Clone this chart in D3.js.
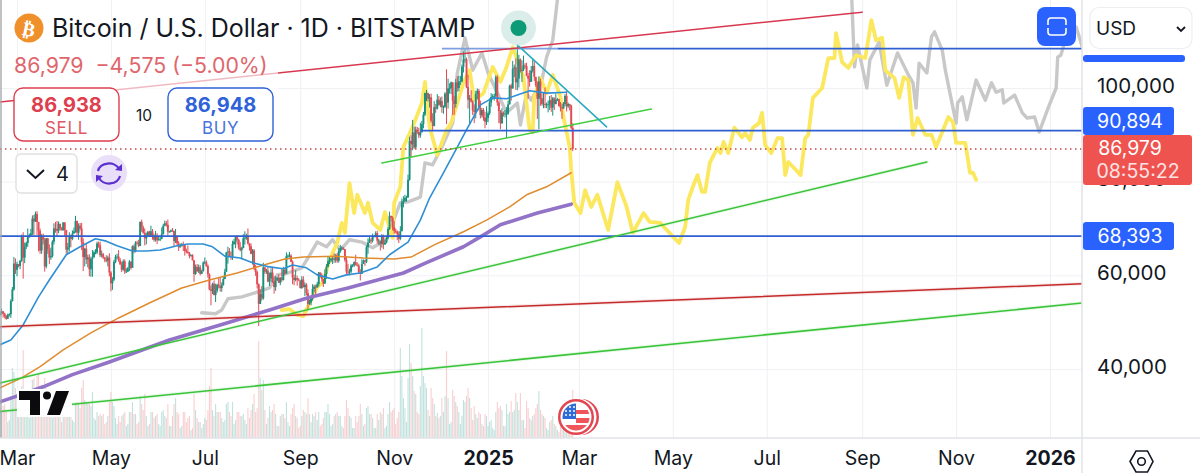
<!DOCTYPE html>
<html>
<head>
<meta charset="utf-8">
<script src="https://cdn.jsdelivr.net/npm/d3@7"></script>
<style>
  html, body { margin: 0; padding: 0; background: #fff; overflow: hidden; }
  text { font-family: Inter, "Noto Sans", sans-serif; }
</style>
</head>
<body>
<div id="plot"></div>
<script>
// daily bars from 2024-02-19, one line per month, prices in thousands USD
const firstBar = "2024-02-19";
const closes = [
  51.8,52.3,51.8,51.3,50.7,51.6,51.7,54.5,57.0,62.5,61.2,
  62.4,62.0,63.1,68.3,63.8,66.1,66.9,68.3,68.5,69.0,72.1,71.5,73.1,71.4,69.5,65.3,68.4,67.6,61.9,67.9,65.5,63.8,64.1,67.2,70.0,69.9,69.5,71.0,70.0,69.6,71.3,
  69.7,65.5,66.0,68.5,67.8,68.9,69.4,71.6,69.1,70.6,70.0,67.1,63.9,65.7,63.4,63.8,61.3,63.5,63.8,64.9,64.9,66.8,66.4,64.3,64.5,63.8,63.4,63.1,63.8,60.6,
  58.3,59.1,62.9,63.9,64.0,63.2,62.3,61.2,63.0,60.8,60.8,61.5,62.9,61.6,66.2,65.2,67.0,66.9,66.3,71.4,70.2,69.1,67.9,68.5,69.3,68.5,69.4,68.4,67.6,68.4,67.5,
  67.7,67.8,68.8,70.6,71.1,70.8,69.3,69.3,69.6,69.5,67.3,68.2,66.8,66.0,66.2,66.6,66.5,65.2,65.0,64.8,64.1,64.3,63.2,60.3,61.8,60.9,61.7,60.3,60.9,62.7,
  62.8,62.0,60.2,57.0,56.7,58.2,55.8,56.7,58.0,57.7,57.3,57.9,59.2,60.8,64.9,65.1,64.1,64.0,66.7,67.2,68.2,67.6,65.9,65.4,65.8,67.9,68.0,68.3,66.8,66.2,64.6,
  65.3,61.4,60.7,58.1,53.9,56.0,55.1,61.7,60.8,61.0,58.7,59.3,60.6,58.7,57.5,58.9,59.5,58.4,59.5,59.0,61.2,60.4,64.1,64.2,64.2,62.9,59.5,59.0,59.4,59.1,58.9,
  57.3,59.1,57.5,58.0,56.2,53.9,54.2,55.0,57.1,57.6,57.4,58.1,60.6,60.0,59.2,58.2,60.3,61.8,63.0,63.2,63.6,63.6,63.3,64.3,63.1,65.2,65.8,65.9,65.6,63.3,
  60.8,60.6,60.8,62.1,62.1,62.8,62.2,62.1,60.6,60.3,62.4,63.2,62.9,66.0,67.0,67.6,67.4,68.4,68.4,69.0,67.4,67.4,66.7,68.2,66.6,67.0,67.9,69.9,72.7,72.3,70.3,
  69.5,69.3,68.8,67.8,69.4,75.6,75.9,76.5,76.7,80.4,88.7,88.0,90.5,87.3,91.1,90.6,89.9,90.5,92.3,94.3,98.9,98.9,97.7,98.0,93.0,91.9,95.9,95.6,97.5,96.4,
  97.2,95.9,96.0,98.8,96.9,99.9,99.9,101.2,97.3,96.6,101.2,100.0,101.4,101.4,104.5,106.1,106.1,100.2,97.5,97.8,97.1,95.2,94.9,98.7,99.4,95.8,94.2,95.3,93.7,92.8,93.6,
  94.6,96.9,98.1,98.2,98.3,102.3,96.9,95.1,92.5,94.7,94.5,94.5,94.5,96.5,100.5,99.9,104.1,104.4,101.2,102.0,106.1,103.7,103.9,104.8,104.7,102.6,102.0,101.3,103.7,104.7,102.4,
  100.6,97.7,101.4,97.8,96.6,96.6,96.5,96.5,96.5,97.4,95.8,97.8,96.6,97.5,97.6,96.1,95.8,95.6,96.6,98.3,96.1,96.6,96.3,91.5,86.98
];
const highs = [
  52.4,52.9,52.4,52.0,51.5,51.8,51.9,54.9,57.5,63.9,63.6,
  62.9,62.4,63.3,68.7,69.2,67.0,67.2,70.0,68.9,69.9,72.8,72.9,73.6,73.7,71.4,70.0,68.8,68.9,68.0,68.0,68.0,66.6,65.9,67.5,71.1,71.4,71.6,71.5,71.0,70.3,71.3,
  71.3,69.5,66.9,69.2,68.7,69.6,70.2,72.7,71.7,71.1,71.2,71.2,67.9,65.8,66.8,64.4,64.5,64.0,65.4,65.3,65.6,67.2,67.2,67.2,65.3,64.8,63.9,64.3,64.2,64.7,
  60.9,59.6,63.3,64.4,64.6,65.4,63.7,62.9,63.4,63.4,61.5,61.8,63.3,63.0,66.4,66.6,67.3,67.4,67.6,71.5,71.9,70.6,70.0,69.1,69.5,69.5,70.6,69.9,68.9,69.5,69.0,
  68.4,68.4,70.2,71.0,71.7,71.6,71.9,69.5,69.8,70.1,69.5,69.9,68.4,67.3,66.8,66.9,67.2,66.5,65.7,66.4,65.0,64.5,64.5,63.3,62.3,62.4,62.3,62.2,61.2,63.0,
  63.8,63.2,62.3,60.4,57.8,58.4,58.9,58.2,58.2,59.4,59.5,58.5,59.8,61.4,65.0,66.1,65.8,65.1,67.4,67.8,68.4,68.5,67.8,67.1,66.1,68.8,69.4,68.9,70.0,66.9,66.8,
  65.6,65.6,62.2,61.0,58.3,57.0,57.7,62.7,61.7,61.4,61.8,60.6,61.5,61.8,59.8,59.8,59.6,60.2,59.6,61.4,61.8,61.4,64.9,64.5,65.0,64.5,63.2,60.2,61.1,59.9,59.4,
  58.9,59.8,59.8,58.5,58.3,57.0,54.8,55.2,58.1,58.0,58.0,58.6,60.7,60.6,60.4,59.2,61.3,62.4,64.0,64.0,63.6,64.0,64.7,64.6,64.8,65.8,66.5,66.2,66.0,65.6,
  64.1,62.4,61.4,62.4,62.4,63.0,64.4,62.8,62.5,61.3,63.4,63.4,63.2,66.4,67.9,68.4,68.0,68.9,68.6,69.4,69.5,67.8,67.4,68.8,68.7,67.6,68.3,70.3,73.6,72.7,72.6,
  71.6,70.0,69.6,69.4,70.5,76.4,76.9,77.2,77.0,81.5,89.6,89.9,93.2,91.7,91.8,91.7,91.5,92.6,93.0,94.9,99.0,99.6,99.0,98.7,98.8,94.6,97.2,96.6,98.7,98.3,
  98.0,98.2,96.3,99.1,104.0,102.0,101.0,101.4,101.2,98.3,101.9,102.5,102.6,102.6,105.0,107.8,108.3,106.5,102.8,98.5,99.5,97.4,96.5,99.4,99.9,99.8,97.3,95.7,95.7,94.9,96.1,
  95.0,97.8,98.9,98.7,98.8,102.7,102.7,97.2,95.3,95.7,95.0,95.3,95.9,97.3,100.7,100.9,105.8,105.0,106.3,109.0,107.1,106.3,105.9,106.9,105.3,105.4,103.2,103.8,104.7,106.4,106.0,
  102.0,101.4,102.5,102.0,98.8,99.0,100.1,96.9,97.3,98.3,98.5,98.1,98.0,98.8,97.9,97.7,97.0,96.7,97.0,98.7,99.3,96.9,96.6,96.4,92.5
];
const lows = [
  51.3,51.6,51.0,50.8,50.5,50.9,51.2,50.9,54.4,56.7,60.3,
  59.8,61.7,61.3,62.9,59.3,62.6,65.6,66.1,68.0,68.2,68.6,68.6,71.4,68.6,65.1,64.6,64.6,66.6,60.8,61.5,64.6,62.4,63.3,63.8,66.6,69.1,68.4,69.0,69.6,69.6,69.6,
  68.3,64.6,64.5,65.1,66.0,67.5,69.1,69.1,68.5,67.6,69.6,65.4,60.9,61.9,62.4,61.7,59.8,59.7,59.7,63.9,64.5,64.5,65.9,63.9,63.8,63.5,62.8,62.8,61.9,59.8,
  56.6,56.9,58.8,62.6,63.5,62.9,62.3,60.7,61.0,60.3,60.5,60.7,60.9,61.2,61.7,64.7,64.9,66.6,66.0,66.2,69.3,68.9,66.4,66.6,68.6,68.2,68.3,67.6,67.2,67.2,66.7,
  67.4,67.3,67.7,68.7,70.5,70.4,68.6,69.2,69.2,69.3,66.1,66.9,66.3,65.2,65.9,66.2,65.2,64.2,64.7,64.6,63.6,64.0,63.2,58.6,60.1,60.7,60.5,60.0,60.4,60.8,
  62.4,61.8,59.5,56.8,53.6,56.0,55.7,54.3,56.3,57.2,56.5,56.5,57.8,59.5,60.7,62.5,63.9,63.3,63.3,66.5,65.8,66.6,65.5,65.1,63.4,65.8,66.6,67.6,66.6,65.3,64.5,
  62.3,61.1,59.9,57.2,49.2,53.9,54.6,54.8,60.3,60.3,58.5,57.7,58.5,58.4,56.1,56.7,58.8,58.4,57.9,58.6,58.9,60.0,60.3,63.6,63.8,62.8,58.1,57.9,58.7,57.8,58.8,
  57.2,57.1,57.4,55.6,55.7,52.6,53.7,53.6,54.6,56.4,55.6,57.4,57.6,59.5,58.7,57.5,58.4,59.2,61.7,62.4,62.8,62.4,62.7,62.7,62.7,62.7,64.8,65.4,65.4,62.9,
  60.2,60.0,60.0,60.5,61.7,61.8,62.1,61.9,60.4,58.9,60.4,62.5,62.0,62.6,64.6,66.9,66.7,67.0,68.1,68.1,66.8,66.5,65.3,65.9,65.6,66.5,66.8,67.7,69.7,71.5,69.6,
  68.9,69.0,67.5,66.9,67.5,69.5,74.5,75.6,75.7,76.5,80.2,85.2,86.7,87.0,87.1,90.2,89.3,89.4,90.9,91.4,94.0,97.2,97.1,95.8,92.6,91.0,91.8,94.7,95.4,96.2,
  95.9,94.7,94.5,95.7,92.3,95.6,98.8,98.7,94.2,94.3,95.8,99.2,99.3,100.6,101.2,103.3,105.4,100.0,95.6,92.2,96.9,94.2,92.5,93.5,97.6,95.2,93.5,93.7,93.0,91.4,92.1,
  92.7,94.2,96.0,97.5,97.3,97.9,96.2,92.5,91.2,92.3,93.9,93.7,89.3,94.3,96.5,97.3,99.9,102.3,99.6,99.5,100.1,103.3,101.3,103.6,104.1,102.5,97.7,100.3,101.4,103.3,101.5,
  100.2,93.4,91.2,96.2,96.2,95.7,95.7,95.7,94.8,95.3,94.9,94.1,95.3,96.5,97.2,96.1,95.0,93.4,95.6,96.1,95.0,95.7,95.2,91.2,86.5
];
const volumes = [
  30,28,32,34,26,16,18,42,70,66,50,
  44,26,30,52,88,48,28,40,20,22,58,60,46,62,64,50,36,44,60,50,36,40,22,20,42,40,42,34,24,16,24,
  40,50,44,36,26,18,16,34,36,34,30,50,58,38,36,34,34,32,46,20,18,26,22,24,22,24,14,16,22,36,
  46,36,32,20,14,22,16,22,24,26,12,14,26,26,36,24,24,14,16,42,34,28,44,22,12,14,26,26,20,22,24,
  14,12,26,28,22,20,34,12,12,22,34,40,26,24,10,12,26,26,16,20,22,8,10,44,28,20,16,16,10,14,
  20,18,28,52,70,28,22,34,26,26,26,20,16,18,34,36,26,22,36,14,18,26,26,22,22,24,18,14,30,20,28,
  34,44,26,30,97,60,48,58,28,14,20,32,26,28,34,24,12,12,22,24,24,20,36,16,12,24,30,34,22,20,10,
  12,22,28,26,24,40,24,16,24,22,26,18,26,12,14,20,26,26,34,24,12,14,22,24,26,22,22,12,10,22,
  38,30,22,20,10,10,22,16,22,34,24,12,14,30,32,24,24,20,10,10,24,18,26,24,30,10,12,24,36,26,28,
  30,14,20,26,90,62,40,30,16,60,94,75,62,47,44,26,24,52,110,62,55,50,28,22,50,40,34,22,25,20,
  22,40,26,42,87,40,14,16,48,42,36,32,26,14,22,38,36,42,50,40,30,18,32,24,20,26,24,14,12,24,22,
  12,16,18,10,8,26,36,30,32,28,12,12,34,24,26,37,26,28,45,36,28,45,18,18,10,37,30,20,18,22,24,
  30,34,47,28,24,22,20,10,8,16,18,22,14,12,8,6,14,16,12,16,26,10,6,36,48
];
if (highs.length != closes.length || lows.length != closes.length || volumes.length != closes.length)
  throw new Error("bar arrays differ " + [closes.length, highs.length, lows.length, volumes.length]);

// moving averages and the drawn overlays: days counted from 2024-03-01, prices in thousands
const day0 = "2024-03-01";
const blueDays = [-11,-4,4,14,21,32,41,51,58,65,75,84,93,104,111,121,127,135,145,153,164,173,179,188,195,205,214,223,234,242,254,262,268,277,286,293,301,309,318,325,333,344,357];
const blueVals = [45.2,46.2,49.4,55.4,59.0,64.4,66.1,67.8,67.3,66.3,65.2,65.2,65.4,66.3,66.7,66.7,66.1,64.1,63.7,62.7,61.8,61.4,62.2,61.6,60.1,59.2,60.1,60.5,61.8,64.4,67.1,71.8,76.5,81.9,87.4,91.7,96.4,97.9,97.7,98.5,99.4,98.9,99.1];
const orangeDays = [-11,3,15,30,48,66,86,107,125,143,158,174,186,207,225,245,256,271,290,305,320,331,344,360];
const orangeVals = [36.0,38.1,40.5,44.1,47.7,50.9,54.1,57.3,59.0,60.5,62.0,63.5,63.9,64.1,63.7,63.5,63.9,66.5,69.3,71.8,74.6,77.2,78.9,81.9];
const purpleDays = [-11,-1,17,36,60,99,132,164,189,215,251,266,290,301,314,338,360];
const purpleVals = [33.0,34.1,36.2,38.8,41.5,46.2,49.4,52.6,55.2,57.3,60.5,62.7,66.1,68.2,70.8,73.3,75.2];
const yellowDays = [172,177,182,186,189,192,195,199,202,205,208,211,213,216,219,221,226,228,231,236,239,244,245,249,251,257,263,265,268,273,279,282,290,294,297,303,309,314,318,322,329,333,335,336,340,344,348,353,355,359,360,362,366,369,373,377,384,390,396,400,407,411,418,422,430,434,436,439,442,445,447,450,455,457,459,462,466,471,473,476,478,482,484,486,490,494,497,499,501,506,509,512,514,517,523,527,531,532,536,540,545,551,555,558,562,564,570,573,576,579,582,585,590,594,597,605,608,610,616,619,621,623];
const yellowVals = [52.6,52.8,51.6,51.3,53.3,55.4,57.5,58.6,62.2,64.8,66.9,71.2,69.1,79.7,73.3,77.2,73.3,75.5,71.2,69.7,73.5,68.0,75.5,78.9,87.4,91.7,96.8,101.3,91.7,85.7,91.0,92.5,101.1,103.8,97.4,98.9,104.5,101.3,104.5,108.7,102.3,91.0,90.6,98.1,102.1,98.9,102.8,98.1,93.8,87.4,82.5,75.5,73.3,78.2,74.6,77.2,69.7,79.9,74.6,69.1,73.3,71.4,71.2,69.7,66.9,70.3,76.1,78.9,81.4,77.8,77.8,84.0,87.2,86.1,88.5,86.1,91.5,89.5,90.4,88.9,91.5,92.5,94.7,87.8,86.1,89.3,89.3,81.4,84.2,82.5,81.4,89.3,90.0,97.9,100,106.4,106.4,111.7,105.5,104.3,107,106.4,114.5,110.2,110.7,103.8,102.1,97.9,102.3,101.7,90.0,93.6,90.0,90.0,87.4,93.8,92.7,88.3,88.3,81.9,81.9,80.4];
const grayDaysA = [120,129,133,137,146,155,164,169,176,185,189,195,201,205,210,216,224,231,240,244,249,254,262,265,270,276,283,286,291,296,302,306,318,325,327,331,334,341,344,348,351,352];
const grayValsA = [52.0,51.8,52.6,55.0,55.4,56.3,57.3,60.1,60.5,61.6,63.7,67.1,66.1,67.6,65.4,67.6,67.1,65.9,67.6,71.2,75.5,75.7,76.7,84.0,83.6,87.4,92.5,103.2,110.7,103.8,107.5,103.2,94.7,96.8,92.1,98.9,97.4,101.7,106.6,110.2,118.8,121];
const grayDaysB = [542,544,546,552,554,560,565,572,579,582,584,586,591,594,596,601,603,610,611,614,617,623,629,633,636,640,641,648,653,656,661,664,670,675,676,678,681,688,692,697];
const grayValsB = [121,104.5,109.2,100,106,109.8,100.6,107.5,102.8,101.1,95.7,105.3,103.2,110.9,112,108.1,103.8,92.5,96.8,98.1,93.2,101.7,97.4,101.1,99.1,99.6,96.8,98.5,94.7,93.6,93.8,90.6,95.9,100,106.6,107,110.2,113,108.7,101.7];

const trendNames = ["redUpper","redLower","greenLow","greenMid","greenShort","teal"];
const trendDays = [[-11,549],[-11,692],[-11,692],[-11,591],[237,412],[325,383]];
const trendVals = [[97.0,116.2],[49.0,58.2],[30.9,54.1],[37.0,84.2],[84.0,95.5],[109.2,91.7]];
const levelVals = [108.4,90.894,68.393];
const levelStart = [351,262,-11];
const lastPrice = 86.979;

const priceTicks = [100,80,60,40];
const priceLabels = ["100,000","80,000","60,000","40,000"];
const timeTicks = ["2024-03-01","2024-05-01","2024-07-01","2024-09-01","2024-11-01","2025-01-01","2025-03-01","2025-05-01","2025-07-01","2025-09-01","2025-11-01","2026-01-01"];
const timeLabels = ["Mar","May","Jul","Sep","Nov","2025","Mar","May","Jul","Sep","Nov","2026"];

const W = 1200, H = 473, plotR = 1082, plotB = 438;

const x = d3.scaleUtc().domain([new Date("2024-03-01"), new Date("2026-01-01")]).range([17, 1050]);
const y = d3.scaleLinear().domain([40, 100]).range([369, 88]);
const yVol = d3.scaleLinear().domain([0, 110]).range([plotB, 328]);
const t0 = new Date(day0), tBar = new Date(firstBar);
const xd = d => x(d3.utcDay.offset(t0, d));

const svg = d3.select("#plot").append("svg").attr("width", W).attr("height", H).style("display", "block");
svg.append("defs").append("clipPath").attr("id", "plotclip").append("rect")
  .attr("x", 0).attr("y", 0).attr("width", plotR).attr("height", plotB);

// grid
svg.append("g").call(d3.axisBottom(x).tickValues(timeTicks.map(d => new Date(d))).tickSize(plotB).tickFormat(""))
  .call(g => g.select(".domain").remove())
  .selectAll("line").attr("stroke", "#eef0f4");
svg.append("g").call(d3.axisRight(y).tickValues(priceTicks).tickSize(plotR).tickFormat(""))
  .call(g => g.select(".domain").remove())
  .selectAll("line").attr("stroke", "#f0f1f4");

const plot = svg.append("g").attr("clip-path", "url(#plotclip)");
const barX = i => x(d3.utcDay.offset(tBar, i));
const isUp = i => i == 0 ? true : closes[i] >= closes[i - 1];

// volume
plot.append("g").selectAll("rect").data(volumes).enter().append("rect")
  .attr("x", (d, i) => barX(i) - 0.55)
  .attr("width", 1.1)
  .attr("y", d => yVol(d))
  .attr("height", d => plotB - yVol(d))
  .attr("fill", (d, i) => isUp(i) ? "#9fd2cb" : "#f5b5b9")
  .attr("opacity", 0.65);

function pathOf(days, vals) {
  return d3.line().x((d, i) => xd(d)).y((d, i) => y(vals[i]))(days);
}
function addLine(days, vals, color, w, extra) {
  return plot.append("path").attr("d", pathOf(days, vals)).attr("fill", "none")
    .attr("stroke", color).attr("stroke-width", w).attr("stroke-linejoin", "round").attr("stroke-linecap", "round")
    .attr("opacity", extra || 1);
}

// dragged copies of the price behind the candles
addLine(grayDaysA, grayValsA, "#c8c8c8", 3.4);
addLine(grayDaysB, grayValsB, "#c8c8c8", 3.4);
addLine(yellowDays, yellowVals, "#fce85e", 3.8);

// candles
const candles = plot.append("g");
candles.selectAll("line").data(closes).enter().append("line")
  .attr("x1", (d, i) => barX(i)).attr("x2", (d, i) => barX(i))
  .attr("y1", (d, i) => y(highs[i])).attr("y2", (d, i) => y(lows[i]))
  .attr("stroke", (d, i) => isUp(i) ? "#17917e" : "#e24a54").attr("stroke-width", 1);
candles.selectAll("rect").data(closes).enter().append("rect")
  .attr("x", (d, i) => barX(i) - 0.95).attr("width", 1.9)
  .attr("y", (d, i) => y(Math.max(d, i ? closes[i - 1] : d)))
  .attr("height", (d, i) => Math.max(0.8, Math.abs(y(d) - y(i ? closes[i - 1] : d))))
  .attr("fill", (d, i) => isUp(i) ? "#17917e" : "#e24a54");

// averages
addLine(purpleDays, purpleVals, "#9273c8", 3.6);
addLine(orangeDays, orangeVals, "#e08c2e", 1.5);
addLine(blueDays, blueVals, "#2f8fd6", 1.6);

// horizontal levels
const levels = [0, 1, 2];
plot.selectAll(".level").data(levels).enter().append("line").attr("class", "level")
  .attr("x1", i => xd(levelStart[i])).attr("x2", plotR)
  .attr("y1", i => y(levelVals[i])).attr("y2", i => y(levelVals[i]))
  .attr("stroke", "#2f5fd0").attr("stroke-width", 1.7);
// paler start of the top level
plot.append("line").attr("x1", xd(276)).attr("x2", xd(351)).attr("y1", y(levelVals[0])).attr("y2", y(levelVals[0]))
  .attr("stroke", "#7f9fe0").attr("stroke-width", 1.7);

// trend lines
const trendColor = {redUpper: "#d8384f", redLower: "#c42b2b", greenLow: "#3ac43a", greenMid: "#3ac43a", greenShort: "#3fcf3f", teal: "#2aa9bf"};
trendNames.forEach((n, k) => {
  if (n == "redLower" || n == "greenLow" || n == "greenMid")
    addLine(trendDays[k], trendVals[k], trendColor[n], 3.6, 0.1);
  addLine(trendDays[k], trendVals[k], trendColor[n], 1.5);
});

// last price
plot.append("line").attr("x1", 0).attr("x2", plotR).attr("y1", y(lastPrice)).attr("y2", y(lastPrice))
  .attr("stroke", "#c9484f").attr("stroke-width", 1.3).attr("stroke-dasharray", "1.5 3.5");

// marker on the chart
svg.append("circle").attr("cx", 518.5).attr("cy", 28).attr("r", 17.5).attr("fill", "#cfe7e2").attr("opacity", 0.75);
svg.append("circle").attr("cx", 518.5).attr("cy", 28).attr("r", 8).attr("fill", "#0c9b76");

// frame
svg.append("line").attr("x1", 1).attr("x2", 1).attr("y1", 0).attr("y2", plotB).attr("stroke", "#a6a8ac").attr("stroke-width", 1.4);
svg.append("line").attr("x1", plotR).attr("x2", plotR).attr("y1", 0).attr("y2", 473).attr("stroke", "#e0e3e8").attr("stroke-width", 1.5);
svg.append("line").attr("x1", 0).attr("x2", W).attr("y1", plotB).attr("y2", plotB).attr("stroke", "#e0e3e8").attr("stroke-width", 1.5);

// axes
const xAxis = svg.append("g").attr("transform", "translate(0," + plotB + ")")
  .call(d3.axisBottom(x).tickValues(timeTicks.map(d => new Date(d))).tickSize(0).tickPadding(13)
    .tickFormat((d, i) => timeLabels[i]));
xAxis.select(".domain").remove();
xAxis.selectAll("text").attr("font-size", 19.5).attr("fill", "#131722")
  .attr("font-family", "Inter").attr("font-weight", (d, i) => timeLabels[i].length == 4 ? 700 : 400);

const yAxis = svg.append("g").attr("transform", "translate(" + plotR + ",0)")
  .call(d3.axisRight(y).tickValues(priceTicks).tickSize(0).tickPadding(15)
    .tickFormat((d, i) => priceLabels[i]));
yAxis.select(".domain").remove();
yAxis.selectAll("text").attr("font-size", 20.5).attr("fill", "#131722").attr("font-family", "Inter").attr("dy", "0.2em");

// price tags on the axis
function tag(x0, y0, w, h, fill) {
  svg.append("rect").attr("x", x0).attr("y", y0).attr("width", w).attr("height", h).attr("rx", 3).attr("fill", fill);
}
function label(s, px, py, size, fill, anchor, weight) {
  return svg.append("text").attr("x", px).attr("y", py).attr("font-size", size).attr("fill", fill)
    .attr("text-anchor", anchor || "start").attr("font-weight", weight || 400).attr("dominant-baseline", "central").text(s);
}
tag(1083, 55, 102, 7, "#2962ff");
tag(1083, 107, 91, 28, "#2962ff");
label("90,894", 1130, 121, 19.5, "#fff", "middle");
tag(1083, 135, 109, 50, "#ef5350");
label("86,979", 1130, 148, 19.5, "#fff", "middle");
label("08:55:22", 1138, 171, 19.5, "#fde3e3", "middle");
tag(1083, 222, 91, 28, "#2962ff");
label("68,393", 1130, 236, 19.5, "#fff", "middle");

// legend wash over the upper red line
svg.append("rect").attr("x", 15).attr("y", 58).attr("width", 263).attr("height", 34).attr("fill", "#fff").attr("opacity", 0.65);

// title row
svg.append("circle").attr("cx", 29).attr("cy", 28).attr("r", 14.5).attr("fill", "#f0902b");
label("₿", 29, 29, 19, "#fff", "middle", 700).style("font-family", "DejaVu Sans")
  .attr("transform", "rotate(12 29 28)");
label("Bitcoin / U.S. Dollar · 1D · BITSTAMP", 52, 28, 25, "#131722");
label("86,979  −4,575 (−5.00%)", 14, 65, 21.3, "#df666c").style("white-space", "pre");

// sell and buy
function tradeBox(x0, color, price, name) {
  svg.append("rect").attr("x", x0).attr("y", 88).attr("width", 105).attr("height", 53).attr("rx", 9)
    .attr("fill", "#fff").attr("stroke", color).attr("stroke-width", 1.4);
  label(price, x0 + 52.5, 105, 20, color, "middle", 700);
  label(name, x0 + 52.5, 128, 17, color, "middle").attr("letter-spacing", 0.6).attr("opacity", 0.88);
}
tradeBox(14, "#dd3f4f", "86,938", "SELL");
tradeBox(168, "#2f62d8", "86,948", "BUY");
label("10", 144, 115, 15.5, "#131722", "middle");

// collapsed indicators box
svg.append("rect").attr("x", 16).attr("y", 154).attr("width", 61).attr("height", 39).attr("rx", 5)
  .attr("fill", "#fff").attr("stroke", "#e0e0e0").attr("stroke-width", 1.4);
svg.append("path").attr("d", "M27 170 L35.5 178 L44 170").attr("fill", "none").attr("stroke", "#131722").attr("stroke-width", 2);
label("4", 62.5, 174, 20, "#131722", "middle");
svg.append("circle").attr("cx", 109).attr("cy", 173).attr("r", 18).attr("fill", "#e9dff8");
svg.append("path").attr("d", "M98 171 A11 9 0 0 1 119 169 M120 176 A11 9 0 0 1 99 178")
  .attr("fill", "none").attr("stroke", "#5a2fd0").attr("stroke-width", 2.2);
svg.append("path").attr("d", "M115 170 L122 171 L122 164 Z M103 176 L96 175 L96 182 Z").attr("fill", "#5a2fd0");

// top right controls
svg.append("rect").attr("x", 1037).attr("y", 7).attr("width", 39).attr("height", 39).attr("rx", 8).attr("fill", "#2962ff");
svg.append("path").attr("d", "M1048 25 V21 Q1048 18 1051 18 H1063 Q1066 18 1066 21 V25 M1048 28 V32 Q1048 35 1051 35 H1063 Q1066 35 1066 32 V28")
  .attr("fill", "none").attr("stroke", "#fff").attr("stroke-width", 1.6);
svg.append("rect").attr("x", 1090).attr("y", 7.5).attr("width", 102).attr("height", 41).attr("rx", 9)
  .attr("fill", "#fff").attr("stroke", "#eceef1").attr("stroke-width", 1.2);
label("USD", 1096, 28, 19, "#131722");
svg.append("path").attr("d", "M1177 27 L1181 31 L1185 27").attr("fill", "none").attr("stroke", "#131722").attr("stroke-width", 1.8);

// TradingView logo
svg.append("rect").attr("x", 17).attr("y", 389).attr("width", 55).attr("height", 28).attr("fill", "#fff");
svg.append("path").attr("d", "M19 391 H40 V415 H30 V400 H19 Z M56 391 H69 L60 415 H47 Z").attr("fill", "#0b0b0d");
svg.append("circle").attr("cx", 47).attr("cy", 395.5).attr("r", 4).attr("fill", "#0b0b0d");

// flag badge
svg.append("circle").attr("cx", 581).attr("cy", 417).attr("r", 18).attr("fill", "#e34550");
svg.append("circle").attr("cx", 578).attr("cy", 417).attr("r", 18.5).attr("fill", "#fff");
svg.append("circle").attr("cx", 576).attr("cy", 417).attr("r", 18).attr("fill", "#e34550");
svg.append("circle").attr("cx", 576).attr("cy", 417).attr("r", 15.5).attr("fill", "#fff");
const fl = svg.append("defs").append("clipPath").attr("id", "flagclip");
fl.append("circle").attr("cx", 576).attr("cy", 417).attr("r", 13.5);
const flag = svg.append("g").attr("clip-path", "url(#flagclip)");
flag.append("rect").attr("x", 562).attr("y", 403).attr("width", 28).attr("height", 28).attr("fill", "#fff");
flag.append("rect").attr("x", 576).attr("y", 410).attr("width", 14).attr("height", 4).attr("fill", "#f0555a");
flag.append("rect").attr("x", 576).attr("y", 418).attr("width", 14).attr("height", 5).attr("fill", "#f0555a");
flag.append("rect").attr("x", 562).attr("y", 425).attr("width", 28).attr("height", 6).attr("fill", "#f0555a");
flag.append("rect").attr("x", 562).attr("y", 403).attr("width", 14).attr("height", 16).attr("fill", "#2f6bd8");
flag.selectAll("circle").data([[566,407],[570,407],[574,407],[566,411],[570,411],[574,411],[566,415],[570,415],[574,415]]).enter()
  .append("circle").attr("cx", d => d[0]).attr("cy", d => d[1]).attr("r", 1).attr("fill", "#fff");

// settings hexagon
svg.append("path").attr("d", "M1130 461.5 L1136 451 H1147.5 L1153 461.5 L1147.5 472 H1136 Z")
  .attr("fill", "none").attr("stroke", "#131722").attr("stroke-width", 1.6);
svg.append("circle").attr("cx", 1141.5).attr("cy", 461.5).attr("r", 3.8).attr("fill", "none").attr("stroke", "#131722").attr("stroke-width", 1.6);
</script>
</body>
</html>
